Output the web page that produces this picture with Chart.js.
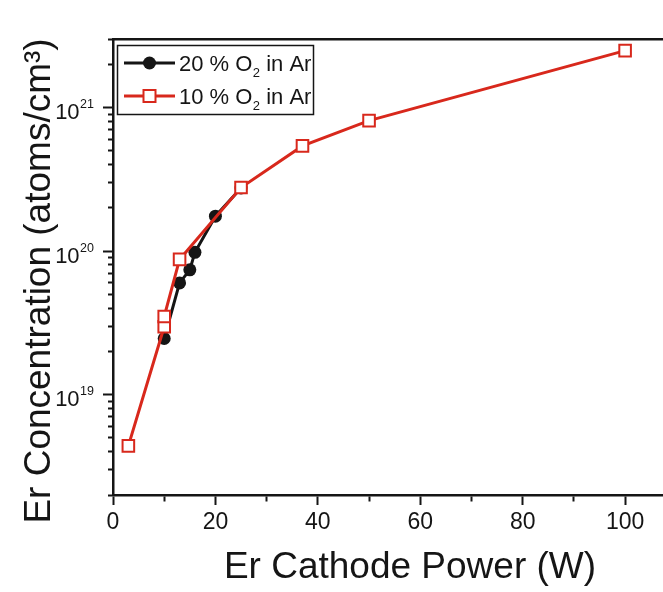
<!DOCTYPE html>
<html>
<head>
<meta charset="utf-8">
<script src="https://cdn.jsdelivr.net/npm/chart.js@4.4.1/dist/chart.umd.min.js"></script>
<style>
  html, body { margin: 0; padding: 0; background: #fff; }
</style>
</head>
<body>
<canvas id="erChart" width="663" height="592"></canvas>
<script>
// Er concentration vs Er cathode power, two sputter gas mixtures
const power20 = [10, 13, 15, 16, 20, 25];
const conc20 = [2.46e19, 6.0e19, 7.4e19, 9.8e19, 1.75e20, 2.75e20];

const power10 = [3, 10, 10, 13, 25, 37, 50, 100];
const conc10 = [4.4e18, 2.97e19, 3.5e19, 8.75e19, 2.77e20, 5.4e20, 8.1e20, 2.49e21];

const seriesNames = ["20 % O₂ in Ar", "10 % O₂ in Ar"];

const xTickValues = [0, 10, 20, 30, 40, 50, 60, 70, 80, 90, 100];
const xTickLabels = ["0", "20", "40", "60", "80", "100"];
const yMajorValues = [1e19, 1e20, 1e21];
const yTickBase = "10";
const yTickExps = ["19", "20", "21"];

const xTitle = "Er Cathode Power (W)";
const yTitle = "Er Concentration (atoms/cm³)";

const RED = "rgb(216, 40, 28)";
const INK = "#151515";
const FONT = '"Liberation Sans", Arial, Helvetica, sans-serif';

// minor ticks 1..9 x 10^n inside the y range
const yMin = 2e18, yMax = 3e21;
const yTickValues = [];
for (let e = 18; e <= 21; e++) {
  for (let m = 1; m <= 9; m++) {
    const v = m * Math.pow(10, e);
    if (v >= yMin && v <= yMax) yTickValues.push(v);
  }
}

function xLabel(v) {
  if (v % 20 !== 0) return "";
  return xTickLabels[v / 20];
}
function yMajorIndex(v) {
  return yMajorValues.findIndex(m => Math.abs(m - v) / m < 1e-6);
}

// axis titles, 10^n tick labels and boxed legend (need super/subscripts)
const overlay = {
  id: "overlay",
  afterDraw(chart) {
    const ctx = chart.ctx;
    ctx.save();
    ctx.fillStyle = INK;
    ctx.font = "37px " + FONT;
    ctx.textAlign = "center";
    ctx.textBaseline = "alphabetic";
    ctx.fillText(xTitle, 410, 578);
    ctx.save();
    ctx.translate(50, 281);
    ctx.rotate(-Math.PI / 2);
    ctx.fillText(yTitle, 0, 0);
    ctx.restore();

    // y tick labels at the scale's own pixel positions
    const ys = chart.scales.y;
    yMajorValues.forEach((v, i) => {
      const py = ys.getPixelForValue(v);
      ctx.textAlign = "right";
      ctx.font = "12.5px " + FONT;
      ctx.fillText(yTickExps[i], 94, py + 0.5);
      const ew = ctx.measureText(yTickExps[i]).width;
      ctx.font = "22px " + FONT;
      ctx.fillText(yTickBase, 94 - ew - 0.5, py + 11.5);
    });

    // legend box
    ctx.strokeStyle = INK;
    ctx.lineWidth = 1.5;
    ctx.strokeRect(117.5, 45.5, 196, 69);

    const order = [1, 0]; // black series first
    order.forEach((di, row) => {
      const ds = chart.data.datasets[di];
      const y = 63 + row * 33;
      ctx.strokeStyle = ds.borderColor;
      ctx.lineWidth = 3;
      ctx.beginPath();
      ctx.moveTo(124, y);
      ctx.lineTo(175, y);
      ctx.stroke();
      if (ds.pointStyle === "rect") {
        ctx.fillStyle = "#fff";
        ctx.fillRect(143.5, y - 6, 12, 12);
        ctx.lineWidth = 2;
        ctx.strokeRect(143.5, y - 6, 12, 12);
      } else {
        ctx.fillStyle = ds.pointBackgroundColor;
        ctx.beginPath();
        ctx.arc(149.5, y, 6.5, 0, Math.PI * 2);
        ctx.fill();
      }
      const parts = ds.label.split("₂");
      ctx.fillStyle = INK;
      ctx.textAlign = "left";
      ctx.font = "22px " + FONT;
      let x = 179;
      ctx.fillText(parts[0], x, y + 8);
      x += ctx.measureText(parts[0]).width;
      ctx.font = "13px " + FONT;
      ctx.fillText("2", x + 0.5, y + 14);
      x += ctx.measureText("2").width + 0.5;
      ctx.font = "22px " + FONT;
      ctx.fillText(parts[1], x, y + 8);
    });
    ctx.restore();
  }
};

const ctx = document.getElementById("erChart").getContext("2d");
new Chart(ctx, {
  type: "line",
  data: {
    datasets: [{
      label: seriesNames[1],
      data: power10.map((p, i) => ({ x: p, y: conc10[i] })),
      borderColor: RED,
      borderWidth: 3,
      pointStyle: "rect",
      pointRadius: 8.2,
      pointBorderWidth: 2,
      pointBackgroundColor: "#fff",
      pointBorderColor: RED,
      order: 0
    }, {
      label: seriesNames[0],
      data: power20.map((p, i) => ({ x: p, y: conc20[i] })),
      borderColor: INK,
      borderWidth: 3,
      pointStyle: "circle",
      pointRadius: 6.5,
      pointBorderWidth: 0,
      pointBackgroundColor: INK,
      pointBorderColor: INK,
      order: 1
    }]
  },
  options: {
    responsive: false,
    animation: false,
    devicePixelRatio: 1,
    layout: { autoPadding: false, padding: { top: 39, right: 0, bottom: 0, left: 0 } },
    plugins: {
      legend: { display: false },
      tooltip: { enabled: false }
    },
    scales: {
      x: {
        type: "linear",
        position: "bottom",
        min: 0,
        max: 107.4,
        afterBuildTicks: s => { s.ticks = xTickValues.map(v => ({ value: v })); },
        afterFit: s => { s.height = 97; },
        ticks: {
          autoSkip: false,
          maxRotation: 0,
          padding: 4,
          color: INK,
          font: { family: FONT, size: 23 },
          callback: v => xLabel(v)
        },
        grid: {
          display: true,
          drawOnChartArea: false,
          drawTicks: true,
          tickLength: 10,
          tickWidth: 2,
          tickColor: INK,
          tickBorderDash: c => (c.tick && c.tick.value % 20 !== 0) ? [5, 20] : []
        },
        border: { display: true, color: INK, width: 2.5 }
      },
      xTop: {
        type: "linear",
        position: "top",
        min: 0,
        max: 107.4,
        afterFit: s => { s.height = 0; },
        ticks: { display: false },
        grid: { display: false, drawTicks: false },
        border: { display: true, color: INK, width: 2.5 }
      },
      y: {
        type: "logarithmic",
        position: "left",
        min: yMin,
        max: yMax,
        afterBuildTicks: s => { s.ticks = yTickValues.map(v => ({ value: v })); },
        afterFit: s => { s.width = 113; },
        ticks: {
          autoSkip: false,
          padding: 9,
          callback: () => ""
        },
        grid: {
          display: true,
          drawOnChartArea: false,
          drawTicks: true,
          tickLength: 10,
          tickWidth: 2,
          tickColor: INK,
          tickBorderDash: c => (c.tick && yMajorIndex(c.tick.value) < 0) ? [0, 5, 5, 20] : []
        },
        border: { display: true, color: INK, width: 2.5 }
      }
    }
  },
  plugins: [overlay]
});
</script>
</body>
</html>
